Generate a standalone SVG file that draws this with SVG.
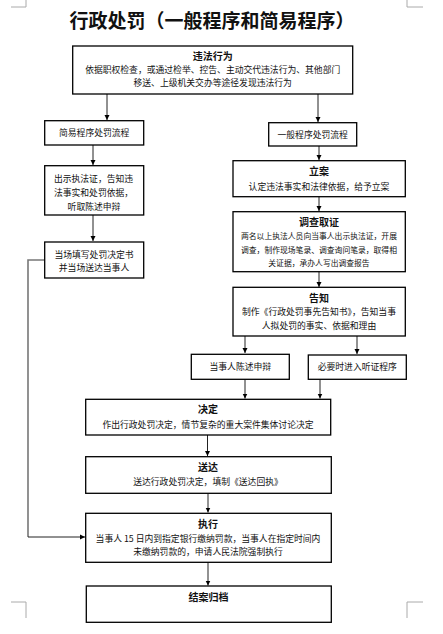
<svg xmlns="http://www.w3.org/2000/svg" width="443" height="634" viewBox="0 0 443 634">
<style>
.box{fill:#fff;stroke:#000;stroke-width:1.3}
text{font-family:"Noto Sans CJK SC","Liberation Sans",sans-serif;fill:#111;text-anchor:middle}
.h{font-size:10px;font-weight:bold}
.t{font-size:8.8px}
.s{font-size:7.8px}
.c{fill:none;stroke:#222;stroke-width:1}
.g{fill:none;stroke:#777;stroke-width:1.6}
.corner{fill:none;stroke:#aaa;stroke-width:1}
</style>
<defs>
<marker id="ar" markerWidth="6" markerHeight="6" refX="5" refY="3" orient="auto" markerUnits="userSpaceOnUse">
<path d="M0,0.5 L5,3 L0,5.5 Z" fill="#000"/>
</marker>
</defs>
<g id="corners">
<path class="corner" d="M11,7 H26 V0 M423,7 H407 V0 M11,602 H26 V618 M423,602 H407 V618"/>
</g>
<text x="212" y="28" style="font-size:19px;font-weight:bold">行政处罚（一般程序和简易程序）</text>
<g id="connectors">
<path class="c" d="M107,94 V120" marker-end="url(#ar)"/>
<path class="c" d="M318,94 V122" marker-end="url(#ar)"/>
<path class="c" d="M93,145 V165" marker-end="url(#ar)"/>
<path class="c" d="M93,215 V241" marker-end="url(#ar)"/>
<path class="c" d="M319,146 V160" marker-end="url(#ar)"/>
<path class="c" d="M319,196.7 V211" marker-end="url(#ar)"/>
<path class="c" d="M319,271.7 V287" marker-end="url(#ar)"/>
<path class="g" d="M245,336 V353" marker-end="url(#ar)"/>
<path class="g" d="M357,336 V354" marker-end="url(#ar)"/>
<path class="c" d="M245,379.3 V398.5" marker-end="url(#ar)"/>
<path class="c" d="M320,379.3 V398.5" marker-end="url(#ar)"/>
<path class="c" d="M207.5,435 V456" marker-end="url(#ar)"/>
<path class="g" d="M208,493.3 V512.5" marker-end="url(#ar)"/>
<path class="g" d="M208,562.3 V585.5" marker-end="url(#ar)"/>
<path class="g" d="M44.7,260 H28 V537"/>
<path class="c" d="M28,537 H85" marker-end="url(#ar)"/>
</g>
<g id="n1">
<rect class="box" x="72.7" y="46" width="280" height="48"/>
<text class="h" x="212.7" y="60">违法行为</text>
<text class="t" x="212.7" y="73">依据职权检查，或通过检举、控告、主动交代违法行为、其他部门</text>
<text class="t" x="212.7" y="86">移送、上级机关交办等途径发现违法行为</text>
</g>
<g id="n2">
<rect class="box" x="44.7" y="120.7" width="99" height="24.3"/>
<text class="t" x="94.2" y="136">简易程序处罚流程</text>
</g>
<g id="n3">
<rect class="box" x="268.7" y="122.7" width="88" height="23.3"/>
<text class="t" x="312.7" y="137.5">一般程序处罚流程</text>
</g>
<g id="n4">
<rect class="box" x="44.7" y="165.7" width="99" height="49.3"/>
<text class="t" x="93.5" y="182">出示执法证，告知违</text>
<text class="t" x="93.5" y="196">法事实和处罚依据，</text>
<text class="t" x="94" y="210">听取陈述申辩</text>
</g>
<g id="n5">
<rect class="box" x="44.7" y="242" width="99" height="36"/>
<text class="t" x="94" y="258">当场填写处罚决定书</text>
<text class="t" x="94" y="271">并当场送达当事人</text>
</g>
<g id="n6">
<rect class="box" x="233" y="160.7" width="172.3" height="36"/>
<text class="h" x="319" y="175">立案</text>
<text class="t" x="319" y="190">认定违法事实和法律依据，给予立案</text>
</g>
<g id="n7">
<rect class="box" x="233" y="211.7" width="172.3" height="60"/>
<text class="h" x="319" y="226">调查取证</text>
<text class="s" x="319" y="239">两名以上执法人员向当事人出示执法证，开展</text>
<text class="s" x="319" y="252.5">调查，制作现场笔录、调查询问笔录，取得相</text>
<text class="s" x="319" y="266">关证据，承办人写出调查报告</text>
</g>
<g id="n8">
<rect class="box" x="233" y="287.3" width="172.3" height="48.7"/>
<text class="h" x="319" y="301.5">告知</text>
<text class="t" x="319" y="315">制作《行政处罚事先告知书》，告知当事</text>
<text class="t" x="319" y="329">人拟处罚的事实、依据和理由</text>
</g>
<g id="n9">
<rect class="box" x="191.3" y="354.3" width="98" height="25"/>
<text class="t" x="240.3" y="370">当事人陈述申辩</text>
</g>
<g id="n10">
<rect class="box" x="308.3" y="355" width="98" height="24.3"/>
<text class="t" x="357.3" y="370">必要时进入听证程序</text>
</g>
<g id="n11">
<rect class="box" x="85.7" y="399.3" width="245" height="35.7"/>
<text class="h" x="208" y="413">决定</text>
<text class="t" x="208" y="428">作出行政处罚决定，情节复杂的重大案件集体讨论决定</text>
</g>
<g id="n12">
<rect class="box" x="85.7" y="456.7" width="245.6" height="36.6"/>
<text class="h" x="208" y="471">送达</text>
<text class="t" x="208" y="485">送达行政处罚决定，填制《送达回执》</text>
</g>
<g id="n13">
<rect class="box" x="85.7" y="513.3" width="245.6" height="49"/>
<text class="h" x="208" y="528">执行</text>
<text class="t" x="208" y="542">当事人 15 日内到指定银行缴纳罚款，当事人在指定时间内</text>
<text class="t" x="208" y="555">未缴纳罚款的，申请人民法院强制执行</text>
</g>
<g id="n14">
<rect class="box" x="86.3" y="586" width="245" height="36.3"/>
<text class="h" x="208.5" y="600.5">结案归档</text>
</g>
</svg>
